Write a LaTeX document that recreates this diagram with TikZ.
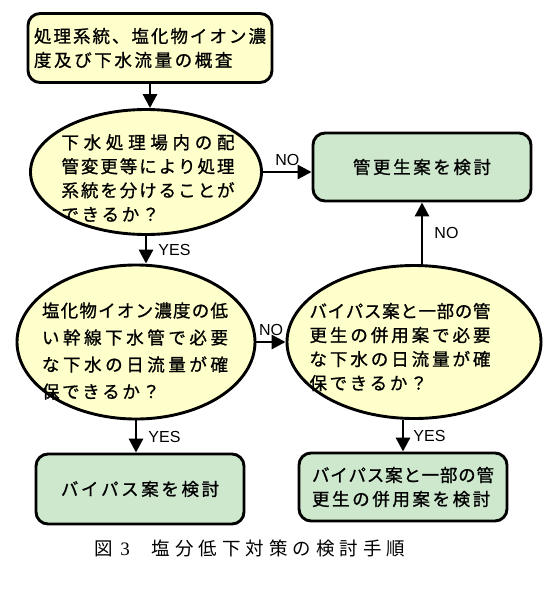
\documentclass[tikz,border=0pt]{standalone}
\usepackage{fontspec}
\setmainfont{Liberation Sans}
\newfontfamily\jfont[FakeBold=1]{Noto Sans CJK JP}
\newfontfamily\capfont{Noto Sans CJK JP}
\newfontfamily\numfont{Liberation Serif}
\usetikzlibrary{shapes.geometric,arrows.meta}
\definecolor{boxyellow}{RGB}{255,255,204}
\definecolor{boxgreen}{RGB}{206,232,206}
\newcommand\jgap{2.6pt}
\def\gaploop#1#2{#1\ifx\relax#2\else\kern\jgap\expandafter\gaploop\expandafter#2\fi}
\def\fillloop#1#2{#1\ifx\relax#2\else\hfil\expandafter\fillloop\expandafter#2\fi}
\newcommand\jline[2]{\makebox[#1][s]{\fillloop#2\relax}}
\newcommand\jtext[1]{\gaploop#1\relax}
\begin{document}
\begin{tikzpicture}[x=1pt,y=-1pt,>={Triangle[length=14pt,width=14pt]},line join=round,
	jp/.style={font=\jfont\fontsize{17.5}{24}\selectfont,align=left,inner sep=0pt},
	boxy/.style={draw,line width=2.9pt,rounded corners=12pt,fill=boxyellow,jp},
	boxg/.style={draw,line width=2.9pt,rounded corners=12pt,fill=boxgreen,jp},
	quest/.style={draw,ellipse,line width=2.9pt,fill=boxyellow,inner sep=0pt},
	arr/.style={->,line width=2.9pt},
	lbl/.style={font=\fontsize{16}{19}\selectfont,inner sep=2pt}]
	\useasboundingbox (0,0) rectangle (547,600);
	\node[boxy,minimum width=244pt,minimum height=69pt] (start) at (150,48) {\jline{232pt}{処理系統、塩化物イオン濃}\\\jtext{度及び下水流量の概査}};
	\node[quest,minimum width=231pt,minimum height=125pt] (q1) at (146,172) {};
	\node[jp] (q1t) at (148,178) {\jline{173pt}{下水処理場内の配}\\\jline{173pt}{管変更等により処理}\\\jline{173pt}{系統を分けることが}\\\jtext{できるか？}};
	\node[boxg,minimum width=218pt,minimum height=68pt] (chk) at (422,167) {\jtext{管更生案を検討}};
	\node[quest,minimum width=238pt,minimum height=154pt] (q2) at (136,342) {};
	\node[jp,font=\jfont\fontsize{17.5}{27}\selectfont] (q2t) at (135,351) {\jline{186pt}{塩化物イオン濃度の低}\\\jline{186pt}{い幹線下水管で必要}\\\jline{186pt}{な下水の日流量が確}\\\jtext{保できるか？}};
	\node[quest,minimum width=254pt,minimum height=153pt] (q3) at (414,342) {};
	\node[jp] (q3t) at (400,347) {\jline{181pt}{バイパス案と一部の管}\\\jline{181pt}{更生の併用案で必要}\\\jline{181pt}{な下水の日流量が確}\\\jtext{保できるか？}};
	\node[boxg,minimum width=208pt,minimum height=70pt] (byp) at (140,489) {\jtext{バイパス案を検討}};
	\node[boxg,minimum width=208pt,minimum height=68pt] (both) at (403,487) {\jline{182pt}{バイパス案と一部の管}\\\jtext{更生の併用案を検討}};
	\node[inner sep=0pt] (cap) at (250,548) {\def\jgap{5pt}\capfont\fontsize{18.5}{22}\selectfont 図\kern7pt{\numfont\fontsize{19}{22}\selectfont 3}\kern22pt\jtext{塩分低下対策の検討手順}};
	\draw[arr] (start.south) -- (start.south |- q1.north);
	\draw[arr] (q1) -- (q1 -| chk.west) node[lbl,midway,above=3pt] (no1) {NO};
	\draw[arr] (q1.south) -- (q1.south |- q2.north) node[lbl,midway,right=9pt] (yes1) {YES};
	\draw[arr] (q2) -- (q3) node[lbl,midway,above=3pt] (no2) {NO};
	\draw[arr] (chk.south |- q3.north) -- (chk.south) node[lbl,midway,right=9pt] (no3) {NO};
	\draw[arr] (q2.south) -- (q2.south |- byp.north) node[lbl,midway,right=9pt] (yes2) {YES};
	\draw[arr] (both.north |- q3.south) -- (both.north) node[lbl,midway,right=7pt] (yes3) {YES};
\end{tikzpicture}
\end{document}
